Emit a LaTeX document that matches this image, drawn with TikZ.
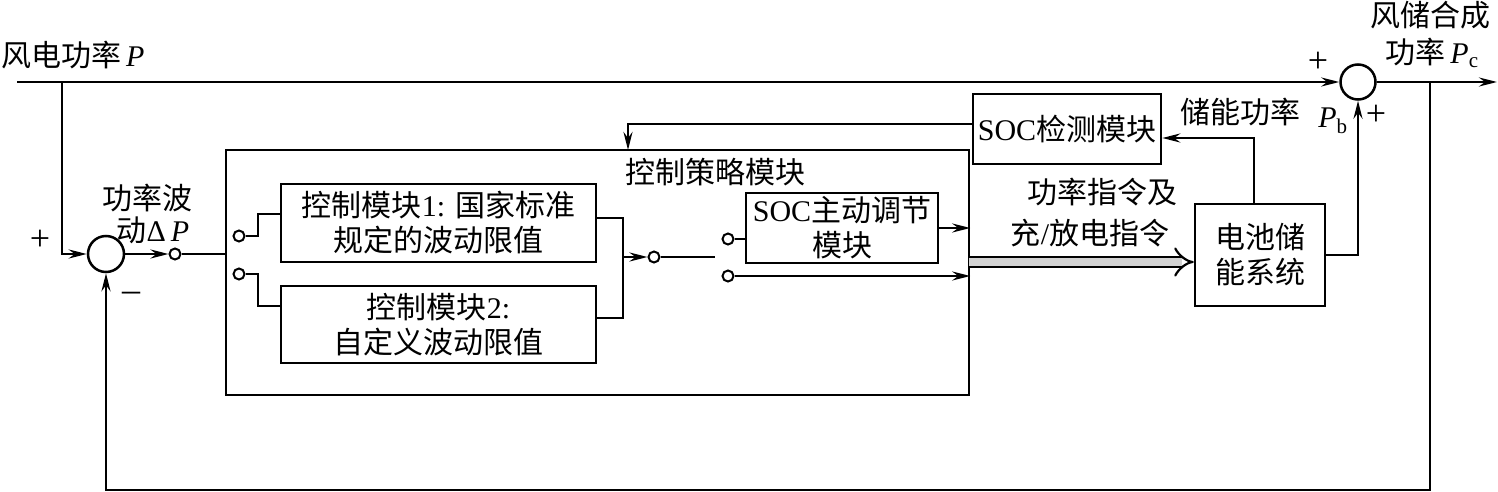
\documentclass[tikz,border=0pt]{standalone}
\usepackage{fontspec}
\setmainfont{Liberation Serif}
\newfontfamily\cjk{Noto Sans CJK SC}
\newcommand{\zh}[1]{{\cjk #1}}
\usetikzlibrary{arrows.meta}
\begin{document}
\begin{tikzpicture}[x=1pt,y=-1pt,line width=2.5pt,
  font=\fontsize{30}{35}\selectfont,
  arr/.style={-{Stealth[length=18pt,width=9pt,inset=6pt]}},
  blk/.style={draw,rectangle,align=center,inner sep=0pt},
  sumc/.style={draw,circle,inner sep=0pt,minimum size=36pt},
  term/.style={draw,circle,inner sep=0pt,minimum size=11pt,line width=2pt,fill=white},
  fat/.style={line width=2.2pt,double=gray!35,double distance=8pt,-{Implies}},
  thinl/.style={line width=1.3pt},
  sgn/.style={font=\fontsize{36}{36}\selectfont}]
\useasboundingbox (0,0) rectangle (1498,492);

% main nodes
\node[sumc] (sum1) at (106,254) {};
\node[sumc,minimum size=35pt] (sum2) at (1358,82) {};
\node[term] (t1) at (175,254) {};
\node[blk,minimum width=743pt,minimum height=245pt] (outer) at (597.5,272.5) {};
\node[term] (sw1a) at (239,236) {};
\node[term] (sw1b) at (239,274) {};
\node[blk,minimum width=315pt,minimum height=78pt] (b1) at (438.5,223)
  {\zh{控制模块}1: \zh{国家标准}\\\zh{规定的波动限值}};
\node[blk,minimum width=315pt,minimum height=77pt] (b2) at (438.5,324.5)
  {\zh{控制模块}2:\\\zh{自定义波动限值}};
\node[term] (t2) at (654,257) {};
\node[term] (sw2a) at (728,239) {};
\node[term] (sw2b) at (728,276) {};
\node[blk,minimum width=192pt,minimum height=70pt] (sa) at (842,228)
  {SOC\zh{主动调节}\\\zh{模块}};
\node[blk,minimum width=188pt,minimum height=70pt] (sd) at (1067,129)
  {SOC\zh{检测模块}};
\node[blk,minimum width=130pt,minimum height=102pt] (batt) at (1260,255)
  {\zh{电池储}\\\zh{能系统}};

\coordinate (in) at (17,82);
\coordinate (br) at (62,82);
\coordinate (out) at (1497,82);
\coordinate (fb) at (1430,82);
\coordinate (d1) at (969,262);

% connectors
\draw[arr] (in) -- (sum2.west);
\draw[arr] (br) |- (sum1.west);
\draw[arr] (sum1.east) -- (t1);
\draw (t1) -- (outer.west |- t1);
\draw (sw1a) -| (258,214) -- ([yshift=9pt]b1.west);
\draw (sw1b) -| (258,306) -- ([yshift=18.5pt]b2.west);
\draw ([yshift=5pt]b1.east) -| (623,290) |- ([yshift=6.5pt]b2.east);
\draw[arr] (623,257) -- (t2);
\draw[thinl] (t2) -- (715,257);
\draw (sw2a) -- ([yshift=-11pt]sa.west);
\draw[arr] (sa.east) -- (sa.east -| outer.east);
\draw[arr] (sw2b) -- (sw2b -| outer.east);
\draw[fat] (d1) -- ([yshift=-7pt]batt.west);
\draw[arr] ([xshift=-6pt]batt.north) |- ([yshift=-9pt]sd.east);
\draw[arr] ([yshift=5pt]sd.west) -| (628,150);
\draw[arr] (batt.east) -| (sum2.south);
\draw[arr] (sum2.east) -- (out);
\draw[arr] (fb) -- (1430,490) -| (sum1.south);

% labels
\node[anchor=west,inner sep=0pt] (lp) at (0,55) {\zh{风电功率}\,\textit{P}};
\node[sgn] (pl1) at (40,240) {+};
\node[sgn] (mi1) at (131,297) {\textendash};
\node (dp1) at (147,198) {\zh{功率波}};
\node (dp2) at (153,230) {\zh{动}Δ\,\textit{P}};
\node (cs) at (715,172) {\zh{控制策略模块}};
\node[sgn] (pl2) at (1318,62) {+};
\node (pc1) at (1430,15) {\zh{风储合成}};
\node (pc2) at (1432,53) {\zh{功率}\,\textit{P}\textsubscript{c}};
\node (cn) at (1240,112) {\zh{储能功率}};
\node (pb) at (1333,121) {\textit{P}\textsubscript{b}};
\node[sgn] (pl3) at (1376,115) {+};
\node (cmd1) at (1102,192) {\zh{功率指令及}};
\node (cmd2) at (1090,233) {\zh{充}/\zh{放电指令}};
\end{tikzpicture}
\end{document}
